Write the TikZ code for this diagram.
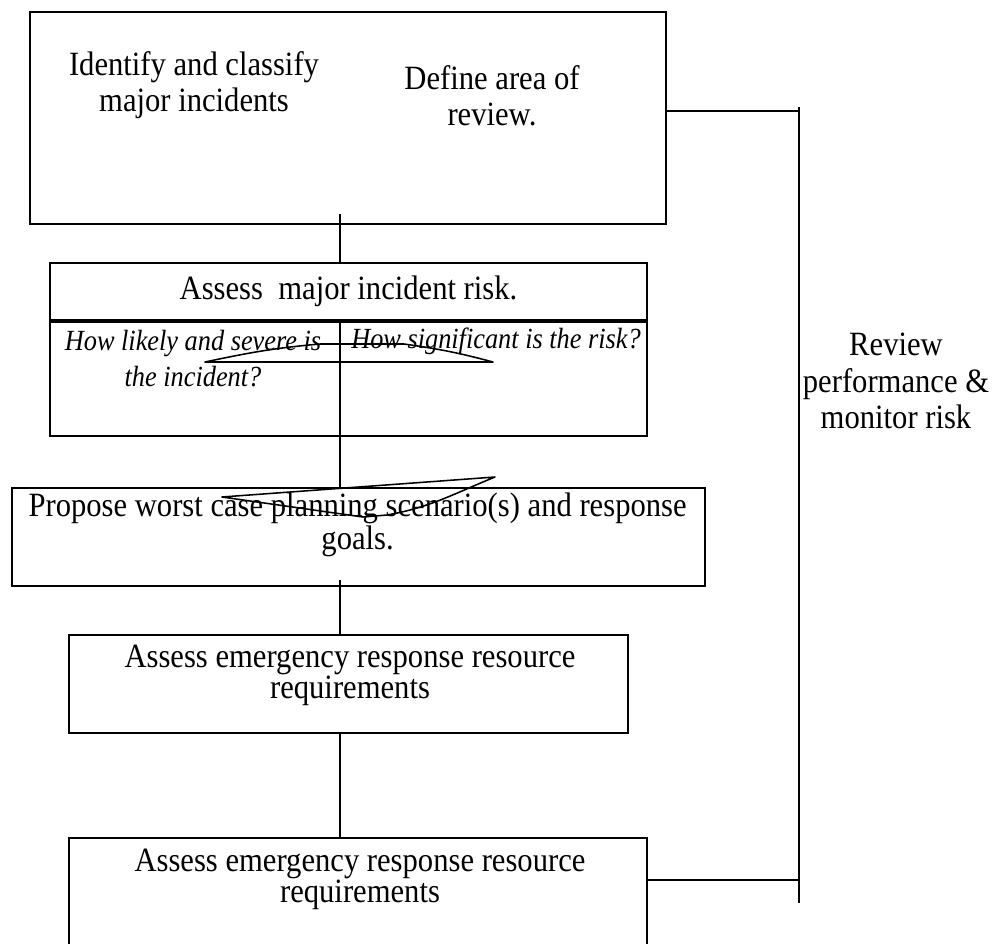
\documentclass[tikz,border=0pt]{standalone}
\usepackage{fontspec}
\setmainfont{Liberation Serif}[FakeStretch=0.9]
\usepackage{tikz}
\usetikzlibrary{positioning,calc}

\begin{document}
\begin{tikzpicture}[
    box/.style={draw, line width=1.4pt, inner sep=0pt},
    txt/.style={font=\fontsize{24.2pt}{25.6pt}\selectfont, align=center, inner sep=0pt},
    tight/.style={txt, font=\fontsize{24.2pt}{22pt}\selectfont},
    qtxt/.style={txt, font=\fontsize{20.8pt}{25.6pt}\selectfont\itshape},
    link/.style={line width=1.1pt},
    scrib/.style={line width=1.1pt, line join=round}
]
\useasboundingbox (0,0) rectangle (25.025,-23.575);
\clip (0,0) rectangle (25.025,-23.575);

% Top box
\node[box, minimum width=15.9cm, minimum height=5.3cm] (topbox) at (8.7,-2.95) {};
\node[txt] (ident) at (4.85,-2.125) {Identify and classify\\major incidents};
\node[txt] (areatxt) at (12.3,-2.39) {Define area of\\review.};

% Risk table
\node[box, txt, minimum width=14.925cm, minimum height=1.425cm] (riskhead) at (8.7125,-7.2875) {Assess\ \ major incident risk.};
\node[box, minimum width=7.25cm, minimum height=2.9cm] (likecell) at (4.875,-9.45) {};
\node[box, minimum width=7.675cm, minimum height=2.9cm] (sigcell) at (12.3375,-9.45) {};
\draw[line width=2.4pt] (riskhead.south west) -- (riskhead.south east);
\node[qtxt] (liketxt) at (4.825,-8.975) {How likely and severe is\\the incident?};
\node[qtxt] (sigtxt) at (12.4,-8.525) {How significant is the risk?};

% Planning scenario
\node[box, minimum width=17.325cm, minimum height=2.45cm] (propose) at (8.9625,-13.425) {};
\node[tight] (proptxt) at (8.94,-13.12) {Propose worst case planning scenario(s) and response\\goals.};

% Resource boxes
\node[box, minimum width=13.975cm, minimum height=2.45cm] (resbox) at (8.7125,-17.1) {};
\node[tight] (restxt) at (8.75,-16.88) {Assess emergency response resource\\requirements};
\node[box, minimum width=14.45cm, minimum height=3.55cm] (resboxb) at (8.95,-22.725) {};
\node[tight] (restxtb) at (9.0,-21.98) {Assess emergency response resource\\requirements};

% Review bar
\coordinate (spine) at (8.5,0);
\coordinate (revtop) at (19.975,-2.775);
\coordinate (revin) at (19.975,-22);
\coordinate (revbot) at (19.975,-22.575);
\node[txt, font=\fontsize{24.2pt}{26pt}\selectfont] (revlabel) at (22.4,-9.525) {Review\\performance \&\\monitor risk};

% Connectors
\draw[link] ($(topbox.south -| spine)+(0,0.275)$) -- (riskhead.north -| spine);
\draw[link] (likecell.south -| spine) -- (propose.north -| spine);
\draw[link] ($(propose.south -| spine)+(0,0.175)$) -- (resbox.north -| spine);
\draw[link] (resbox.south -| spine) -- (resboxb.north -| spine);
\draw[link] (topbox.east |- revtop) -- (revtop);
\draw[link] ($(revtop)+(0,0.1)$) -- (revbot);
\draw[link] (resboxb.east |- revin) -- (revin);

% Scribbles
\draw[scrib] (5.125,-9.05) to[out=12,in=185] (8.0,-8.6) -- (10.1,-8.6) to[out=-8,in=165] (12.325,-9.05) -- cycle;
\draw[scrib] (5.55,-12.425) -- (12.375,-11.925) to[out=202,in=10] (9.675,-12.875) -- (9.075,-12.925) -- cycle;

\end{tikzpicture}
\end{document}
